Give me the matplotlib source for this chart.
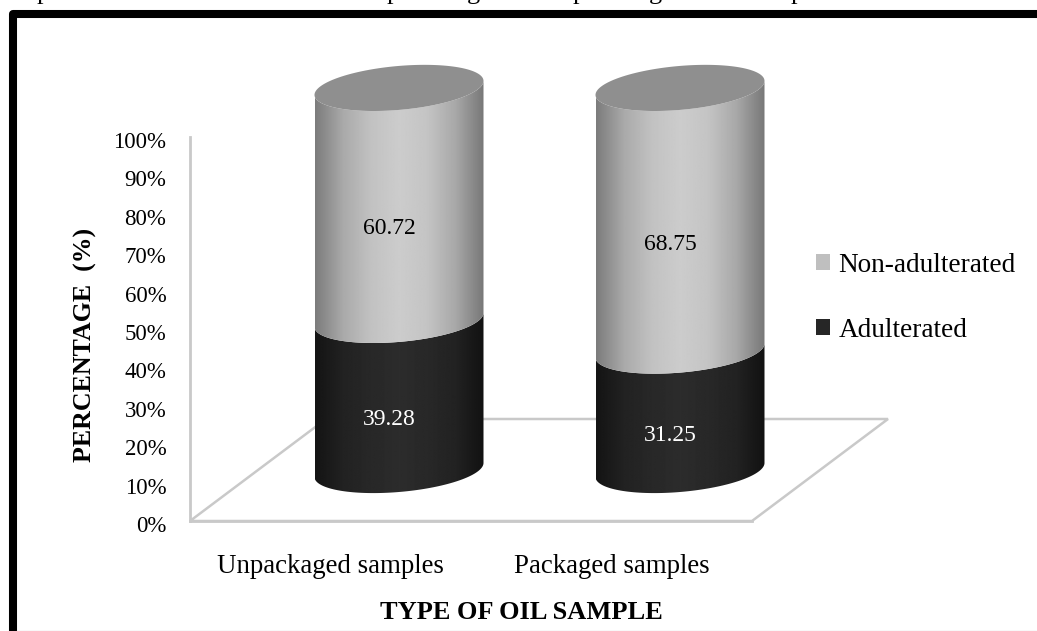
"""Stacked cylinder chart of adulterated and non-adulterated oil samples."""
# %% Imports
import matplotlib

matplotlib.use("Agg")
import matplotlib.pyplot as plt
import numpy as np
from matplotlib.lines import Line2D
from matplotlib.patches import Patch, Polygon
from matplotlib.ticker import PercentFormatter
from matplotlib.transforms import ScaledTranslation

# %% Data
sample_types = ["Unpackaged samples", "Packaged samples"]
adulterated = [39.28, 31.25]
non_adulterated = [60.72, 68.75]
y_ticks = list(range(0, 101, 10))
series_names = ["Non-adulterated", "Adulterated"]

# descenders of the caption line that is cut off above the frame
caption_glyphs = ["p", "p", "g", "p", "g", "p"]
caption_px = [43, 393, 473, 579, 655, 797]

# %% Style
W, H = 1037, 631
GRID = "#c9c9c9"
LIGHT_STOPS = [0x7c, 0xaa, 0xc2, 0xcc, 0xc4, 0xa8, 0x78]
DARK_STOPS = [0x14, 0x22, 0x28, 0x2c, 0x28, 0x22, 0x12]
CAP = "#8f8f8f"

plt.rcParams["font.family"] = ["Liberation Serif", "DejaVu Serif"]

# depth of the floor, in x units and percent
DEPTH_X = 136 / 281
DEPTH_Y = 102 / 3.84

# cylinder shape: half width, ellipse half height, ellipse tilt
CYL_A = 84.5 / 281
CYL_B = 22 / 3.84
CYL_S = 7 / 3.84
CYL_DX = 68.5 / 281
CYL_BASE = 51 / 3.84
CYL_SCALE = 0.995


def frontArc(cx, cy, reverse=False):
    """Front half of a tilted ellipse, left to right unless reversed."""
    t = np.linspace(np.pi, 2 * np.pi, 80)
    if reverse:
        t = t[::-1]
    return np.column_stack(
        [cx + CYL_A * np.cos(t), cy + CYL_B * np.sin(t) + CYL_S * np.cos(t)]
    )


def drawSegment(ax, cx, low, high, stops, z):
    """One shaded band of a cylinder between two percent levels."""
    y0 = CYL_BASE + low * CYL_SCALE
    y1 = CYL_BASE + high * CYL_SCALE
    outline = np.vstack([frontArc(cx, y0), frontArc(cx, y1, reverse=True)])
    clip = Polygon(outline, closed=True, transform=ax.transData, fc="none", ec="none")
    ax.add_patch(clip)
    clip.set_clip_on(False)
    shade = np.interp(np.linspace(0, 1, 200), np.linspace(0, 1, len(stops)), stops)
    im = ax.imshow(
        shade[np.newaxis, :],
        cmap="gray",
        vmin=0,
        vmax=255,
        extent=(cx - CYL_A, cx + CYL_A, y0 - 2 * CYL_B, y1 + 2 * CYL_B),
        aspect="auto",
        interpolation="bilinear",
        zorder=z,
    )
    im.set_clip_box(ax.figure.bbox)
    im.set_clip_path(clip)


# %% Figure
fig = plt.figure(figsize=(W / 100, H / 100), dpi=100)
ax = fig.add_axes([190 / W, (H - 521) / H, 562 / W, 384 / H])
x = np.arange(len(sample_types))

# floor drawn as a skewed plane behind the cylinders
x0, x1 = -0.5, 1.5
floor = Polygon(
    [(x0, 0), (x1, 0), (x1 + DEPTH_X, DEPTH_Y), (x0 + DEPTH_X, DEPTH_Y)],
    closed=True,
    fc="none",
    ec=GRID,
    lw=1.8,
    clip_on=False,
    zorder=1,
)
ax.add_patch(floor)

for xi, bad, good in zip(x, adulterated, non_adulterated):
    cx = xi + CYL_DX
    drawSegment(ax, cx, 0, bad, DARK_STOPS, 2)
    drawSegment(ax, cx, bad, bad + good, LIGHT_STOPS, 3)
    top = CYL_BASE + (bad + good) * CYL_SCALE
    t = np.linspace(0, 2 * np.pi, 160)
    cap = Polygon(
        np.column_stack(
            [cx + CYL_A * np.cos(t), top + CYL_B * np.sin(t) + CYL_S * np.cos(t)]
        ),
        closed=True,
        fc=CAP,
        ec="none",
        clip_on=False,
        zorder=4,
    )
    ax.add_patch(cap)

    # value labels sit on the front of the cylinder
    for value, mid, col in [
        (bad, bad / 2, "white"),
        (good, bad + good / 2, "black"),
    ]:
        ax.annotate(
            f"{value:.2f}",
            (cx, CYL_BASE + mid * CYL_SCALE),
            xytext=(-10, -25),
            textcoords="offset pixels",
            ha="center",
            va="center",
            fontsize=17,
            color=col,
            zorder=5,
        )

ax.set_xlim(x0, x1)
ax.set_ylim(0, 100)
ax.set_xticks(x, sample_types)
ax.set_yticks(y_ticks)
ax.yaxis.set_major_formatter(PercentFormatter(100, decimals=0))
ax.tick_params(axis="y", length=0, pad=17, labelsize=16.5)
ax.tick_params(axis="x", length=0, pad=24, labelsize=19.4)
ax.patch.set_alpha(0)
for side in ["top", "right"]:
    ax.spines[side].set_visible(False)
for side in ["left", "bottom"]:
    ax.spines[side].set_color(GRID)
    ax.spines[side].set_linewidth(2)
    ax.spines[side].set_zorder(1)

# percent labels sit a little under their level in the reference
down = ScaledTranslation(0, -3 / 100, fig.dpi_scale_trans)
for label in ax.get_yticklabels():
    label.set_transform(label.get_transform() + down)

ax.set_xlabel("TYPE OF OIL SAMPLE", fontsize=19, fontweight="bold")
ax.xaxis.set_label_coords(331 / 562, -80 / 384)
ax.set_ylabel("PERCENTAGE  (%)", fontsize=18.6, fontweight="bold")
ax.yaxis.set_label_coords(-93 / 562, 176 / 384)

handles = [
    Patch(fc="#bfbfbf", ec="none", label=series_names[0]),
    Patch(fc="#262626", ec="none", label=series_names[1]),
]
fig.legend(
    handles=handles,
    loc="upper left",
    bbox_to_anchor=(816 / W, (H - 253) / H),
    frameon=False,
    fontsize=19.6,
    handlelength=0.52,
    handleheight=0.52,
    handletextpad=0.3,
    labelspacing=1.46,
    borderpad=0,
    borderaxespad=0,
)

# page frame, the picture is cut on the right and below
fig.add_artist(
    Line2D(
        [13 / W, 13 / W, 1],
        [0, (H - 14) / H, (H - 14) / H],
        color="black",
        lw=5.8,
        solid_joinstyle="round",
        transform=fig.transFigure,
    )
)
fig.add_artist(
    Line2D(
        [17 / W, 1],
        [0.5 / H, 0.5 / H],
        color="#dcdcdc",
        lw=1,
        transform=fig.transFigure,
    )
)

for glyph, px in zip(caption_glyphs, caption_px):
    fig.text(px / W, (H + 1) / H, glyph, fontsize=19, ha="center", va="baseline")

fig.savefig("out.png", dpi=100)
